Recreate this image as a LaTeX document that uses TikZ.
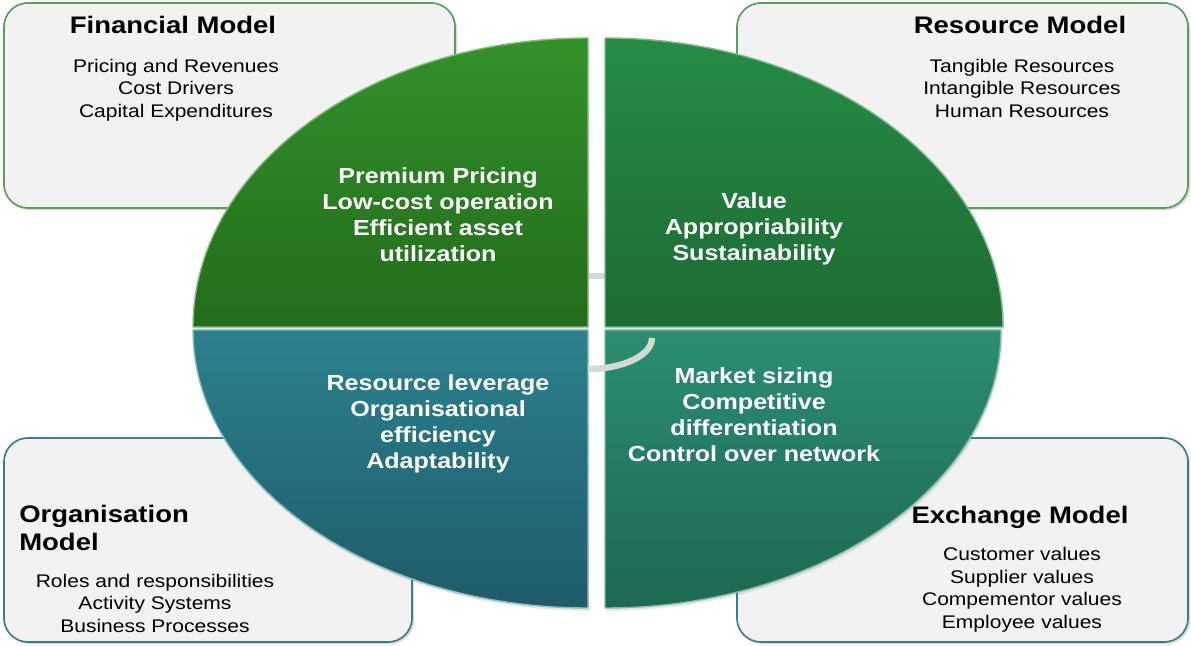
\documentclass[tikz,border=0pt]{standalone}
\usepackage{fontspec}
\setmainfont[FakeStretch=1.15]{Liberation Sans}
\usetikzlibrary{shadows}

\definecolor{boxfill}{HTML}{F2F2F2}
\definecolor{greenline}{HTML}{5A9E5A}
\definecolor{tealline}{HTML}{3C7F8A}
\definecolor{finTop}{HTML}{33912A}
\definecolor{finBot}{HTML}{236B1C}
\definecolor{resTop}{HTML}{268C44}
\definecolor{resBot}{HTML}{1C6B34}
\definecolor{orgTop}{HTML}{2C818E}
\definecolor{orgBot}{HTML}{1E5B69}
\definecolor{excTop}{HTML}{2B8E70}
\definecolor{excBot}{HTML}{1D6852}
\definecolor{linkgrey}{HTML}{D3D9D3}

\tikzset{
  modelbox/.style={draw, fill=boxfill, rounded corners=0.6cm, line width=1.2pt,
    drop shadow={opacity=0.3, shadow xshift=1.5pt, shadow yshift=-1.5pt}},
  modeltitle/.style={font=\bfseries\fontsize{17}{20}\selectfont, inner sep=0pt},
  modelbody/.style={font=\fontsize{13}{16}\selectfont, align=center, inner sep=0pt},
  quadrant/.style={line width=1pt, drop shadow={opacity=0.2, shadow xshift=1pt, shadow yshift=-2pt}},
  quadtext/.style={text=white, font=\bfseries\fontsize{15.5}{18.5}\selectfont, align=center, inner sep=0pt},
  link/.style={linkgrey, line width=4.5pt}
}

\begin{document}
\begin{tikzpicture}[x=0.025cm, y=0.025cm]
    \useasboundingbox (0,0) rectangle (1191,645);

    % Model boxes
    \node[modelbox, draw=greenline, minimum width=11.275cm, minimum height=5.125cm] (fin) at (229.5,539.5) {};
    \node[modelbox, draw=greenline, minimum width=11.275cm, minimum height=5.125cm] (res) at (962.5,539.5) {};
    \node[modelbox, draw=tealline, minimum width=10.2cm, minimum height=5.1cm] (org) at (208,105) {};
    \node[modelbox, draw=tealline, minimum width=11.275cm, minimum height=5.1cm] (exc) at (962.5,105) {};

    % Box texts
    \node[modeltitle] (fintitle) at (173,620) {Financial Model};
    \node[modelbody] (finbody) at (176,555) {Pricing and Revenues\\Cost Drivers\\Capital Expenditures};
    \node[modeltitle] (restitle) at (1020,620) {Resource Model};
    \node[modelbody] (resbody) at (1022,557) {Tangible Resources\\Intangible Resources\\Human Resources};
    \node[modeltitle, align=left, anchor=west] (orgtitle) at (19,117) {Organisation\\Model};
    \node[modelbody] (orgbody) at (155,42) {Roles and responsibilities\\Activity Systems\\Business Processes};
    \node[modeltitle] (exctitle) at (1020,128) {Exchange Model};
    \node[modelbody] (excbody) at (1022,55) {Customer values\\Supplier values\\Compementor values\\Employee values};

    % Link bar between the upper quarters
    \coordinate (barl) at (584,369);
    \coordinate (barr) at (608,369);
    \draw[linkgrey, line width=4.5pt] (barl) -- (barr);

    % Quarters of the ellipse
    \path[quadrant, draw=finTop!60!white, top color=finTop, bottom color=finBot]
        (588,318) -- (193,318) arc[start angle=180, end angle=90, x radius=395, y radius=289] -- cycle;
    \path[quadrant, draw=resTop!60!white, top color=resTop, bottom color=resBot]
        (605,318) -- (1003,318) arc[start angle=0, end angle=90, x radius=398, y radius=289] -- cycle;
    \path[quadrant, draw=orgTop!55!white, top color=orgTop, bottom color=orgBot]
        (588,315) -- (193,315) arc[start angle=180, end angle=270, x radius=395, y radius=278] -- cycle;
    \path[quadrant, draw=excTop!60!white, top color=excTop, bottom color=excBot]
        (605,315) -- (1001,315) arc[start angle=0, end angle=-90, x radius=396, y radius=278] -- cycle;

    % Curved link into the lower right quarter
    \coordinate (arcstart) at (652,307);
    \draw[link] (arcstart) arc[start angle=0, end angle=-90, x radius=64, y radius=31];

    % Quarter texts
    \node[quadtext] (fintext) at (438,430) {Premium Pricing\\Low-cost operation\\Efficient asset\\utilization};
    \node[quadtext] (restext) at (754,416) {Value\\Appropriability\\Sustainability};
    \node[quadtext] (orgtext) at (438,221) {Resource leverage\\Organisational\\efficiency\\Adaptability};
    \node[quadtext] (exctext) at (754,230) {Market sizing\\Competitive\\differentiation\\Control over network};
\end{tikzpicture}
\end{document}
